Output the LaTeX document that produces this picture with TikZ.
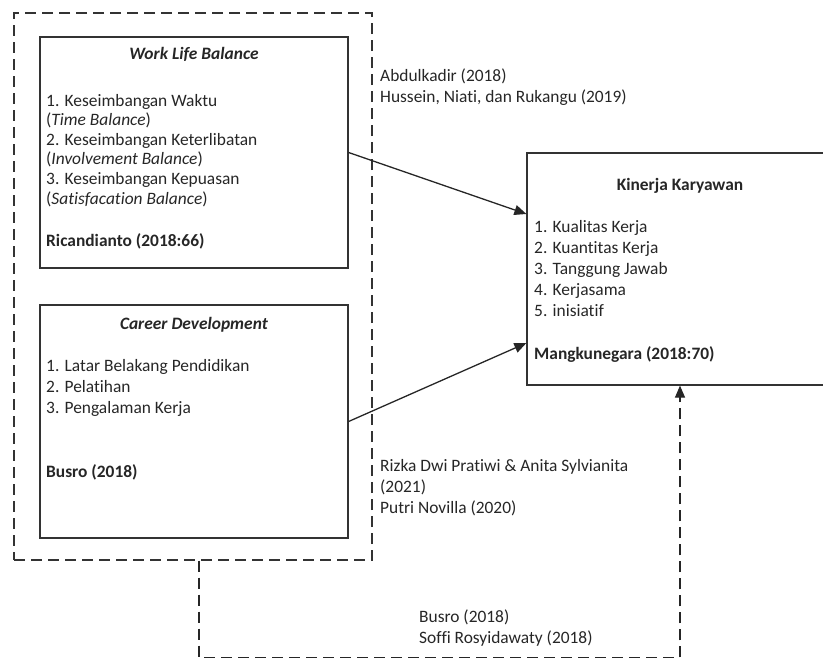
\documentclass[tikz,border=0pt]{standalone}
\usepackage{fontspec}
\setmainfont[Ligatures={NoCommon}]{Carlito}
\usetikzlibrary{arrows.meta,positioning}

\begin{document}
\begin{tikzpicture}[x=1pt,y=-1pt]
    \tikzstyle{every node}+=[inner sep=0pt, text=black!85]
    \tikzstyle{box}=[draw=black!80, line width=1.2pt]
    \tikzstyle{txt}=[anchor=base west, align=left, font=\fontsize{17.4}{20.8}\selectfont]
    \tikzstyle{ttl}=[anchor=base, font=\fontsize{17.4}{20.8}\selectfont]
    \tikzstyle{dsh}=[line width=1.2pt, dash pattern=on 11pt off 6pt]
    \tikzstyle{arr}=[line width=1.3pt, -{Triangle[length=12pt,width=10pt]}]
    \useasboundingbox (0,0) rectangle (823,659);
    % boxes
    \node [dsh, draw=black!80, minimum width=358pt, minimum height=547pt] (outer) at (193,286.5) {};
    \node [box, minimum width=308pt, minimum height=231pt] (wlb) at (194,152.5) {};
    \node [box, minimum width=308pt, minimum height=233pt] (cd) at (194,421.5) {};
    \node [box, minimum width=306pt, minimum height=232pt] (kk) at (680,269) {};
    % work life balance (base = last line)
    \node [ttl] (wlbt) at (194,59) {\textbf{\textit{Work Life Balance}}};
    \node [txt, font=\fontsize{17.4}{19.6}\selectfont] (wlbi) at (46,204) {1. Keseimbangan Waktu\\(\textit{Time Balance})\\2. Keseimbangan Keterlibatan\\(\textit{Involvement Balance})\\3. Keseimbangan Kepuasan\\(\textit{Satisfacation Balance})};
    \node [txt] (wlbr) at (46,246) {\textbf{Ricandianto (2018:66)}};
    % career development
    \node [ttl] (cdt) at (194,329) {\textbf{\textit{Career Development}}};
    \node [txt] (cdi) at (46,413) {1. Latar Belakang Pendidikan\\2. Pelatihan\\3. Pengalaman Kerja};
    \node [txt] (cdr) at (46,477) {\textbf{Busro (2018)}};
    % kinerja karyawan
    \node [ttl] (kkt) at (680,190) {\textbf{Kinerja Karyawan}};
    \node [txt] (kki) at (534,316) {1. Kualitas Kerja\\2. Kuantitas Kerja\\3. Tanggung Jawab\\4. Kerjasama\\5. inisiatif};
    \node [txt] (kkr) at (534,359) {\textbf{Mangkunegara (2018:70)}};
    % sources
    \node [txt] (src1) at (380,102) {Abdulkadir (2018)\\Hussein, Niati, dan Rukangu (2019)};
    \node [txt] (src2) at (380,513) {Rizka Dwi Pratiwi \& Anita Sylvianita\\(2021)\\Putri Novilla (2020)};
    \node [txt] (src3) at (419,643) {Busro (2018)\\Soffi Rosyidawaty (2018)};
    % arrows
    \draw [arr, draw=black!85] (wlb.east) -- ([yshift=55pt]kk.west);
    \draw [arr, draw=black!85] (cd.east) -- ([yshift=-74pt]kk.west);
    \coordinate (bend) at (199,657.5);
    \draw [dsh, -{Triangle[length=12pt,width=10pt]}, draw=black!85] ([xshift=6pt]outer.south) -- (bend) -| (kk.south);
\end{tikzpicture}
\end{document}
